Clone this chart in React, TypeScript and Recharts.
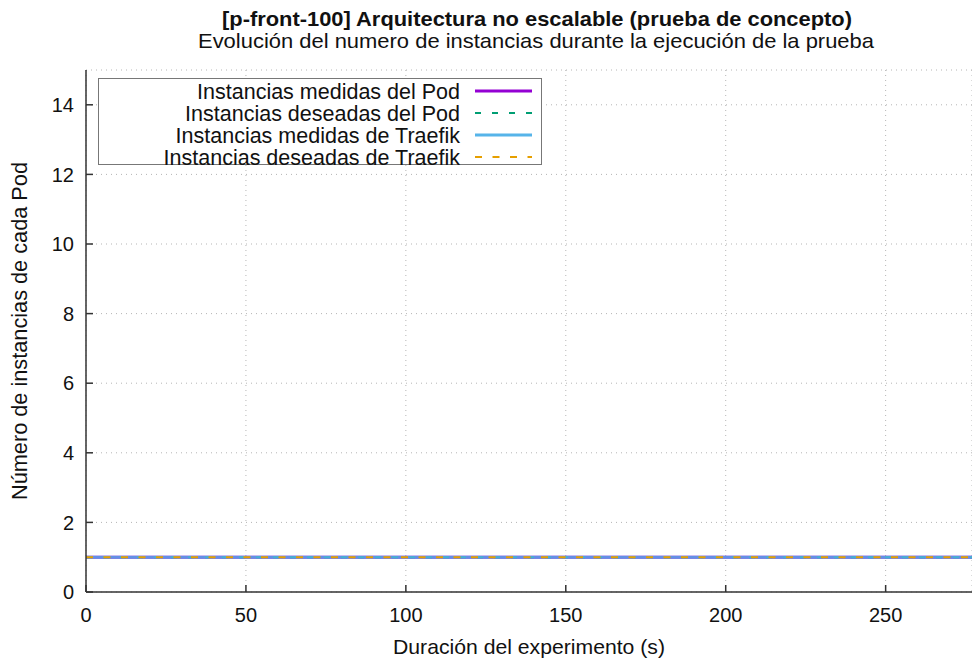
import { LineChart, Line, XAxis, YAxis, CartesianGrid } from 'recharts';

// duración del experimento (s), valor constante
const tiempos = [0, 20, 40, 60, 80, 100, 120, 140, 160, 180, 200, 220, 240, 260, 280];
const podMedidas = [1, 1, 1, 1, 1, 1, 1, 1, 1, 1, 1, 1, 1, 1, 1];
const podDeseadas = [1, 1, 1, 1, 1, 1, 1, 1, 1, 1, 1, 1, 1, 1, 1];
const traefikMedidas = [1, 1, 1, 1, 1, 1, 1, 1, 1, 1, 1, 1, 1, 1, 1];
const traefikDeseadas = [1, 1, 1, 1, 1, 1, 1, 1, 1, 1, 1, 1, 1, 1, 1];

const xTicks = [0, 50, 100, 150, 200, 250];
const yTicks = [0, 2, 4, 6, 8, 10, 12, 14];

const titulo = '[p-front-100] Arquitectura no escalable (prueba de concepto)';
const subtitulo = 'Evolución del numero de instancias durante la ejecución de la prueba';
const etiquetaX = 'Duración del experimento (s)';
const etiquetaY = 'Número de instancias de cada Pod';

const series = [
  { key: 'podMedidas', name: 'Instancias medidas del Pod', color: '#9400d3', width: 3, dash: undefined as string | undefined, opacity: 1 },
  { key: 'podDeseadas', name: 'Instancias deseadas del Pod', color: '#009e73', width: 2, dash: '6 11', opacity: 1 },
  { key: 'traefikMedidas', name: 'Instancias medidas de Traefik', color: '#56b4e9', width: 3, dash: undefined, opacity: 0.8 },
  { key: 'traefikDeseadas', name: 'Instancias deseadas de Traefik', color: '#e69f00', width: 2, dash: '7 10.5', opacity: 1 },
];

const data = tiempos.map((t, i) => ({
  t,
  podMedidas: podMedidas[i],
  podDeseadas: podDeseadas[i],
  traefikMedidas: traefikMedidas[i],
  traefikDeseadas: traefikDeseadas[i],
}));

const FONT = '"Liberation Sans", Arial, Helvetica, sans-serif';
const AXIS = '#333333';

function Leyenda() {
  return (
    <svg
      width={445}
      height={100}
      style={{ position: 'absolute', left: 98, top: 78, overflow: 'visible' }}
    >
      <rect x={0.5} y={0.5} width={443} height={86} fill="#ffffff" stroke="#777777" strokeWidth={1} />
      {series.map((s, i) => {
        const y = 13 + i * 22;
        return (
          <g key={s.key}>
            <text
              x={362}
              y={y}
              dy="0.36em"
              textAnchor="end"
              fontFamily={FONT}
              fontSize={21.5}
              fill="#111"
            >
              {s.name}
            </text>
            <line
              x1={377}
              x2={434}
              y1={y}
              y2={y}
              stroke={s.color}
              strokeWidth={s.width}
              strokeDasharray={s.dash}
            />
          </g>
        );
      })}
    </svg>
  );
}

export default function App() {
  return (
    <div style={{ position: 'absolute', left: 0, top: 0, width: 972, height: 664, background: '#fff', overflow: 'hidden' }}>
      <LineChart
        width={972}
        height={664}
        data={data}
        margin={{ top: 70, right: 0, bottom: 0, left: 0 }}
      >
        <CartesianGrid stroke="#b5b5b5" strokeDasharray="1 4" />
        <XAxis
          dataKey="t"
          type="number"
          domain={[0, 277]}
          allowDataOverflow
          ticks={xTicks}
          height={72}
          tickSize={-7}
          tickMargin={23}
          axisLine={{ stroke: AXIS, strokeWidth: 1.5 }}
          tickLine={{ stroke: AXIS, strokeWidth: 1.5 }}
          tick={{ fontSize: 20, fill: '#111', fontFamily: FONT }}
        />
        <XAxis
          xAxisId="top"
          orientation="top"
          dataKey="t"
          type="number"
          domain={[0, 277]}
          allowDataOverflow
          ticks={xTicks}
          height={0}
          tickSize={-7}
          tickFormatter={() => ''}
          axisLine={{ stroke: AXIS, strokeWidth: 1.5 }}
          tickLine={{ stroke: AXIS, strokeWidth: 1.5 }}
        />
        <YAxis
          type="number"
          domain={[0, 15]}
          ticks={yTicks}
          width={86}
          tickSize={-7}
          tickMargin={19}
          axisLine={{ stroke: AXIS, strokeWidth: 1.5 }}
          tickLine={{ stroke: AXIS, strokeWidth: 1.5 }}
          tick={{ fontSize: 20, fill: '#111', fontFamily: FONT }}
        />
        {series.map((s) => (
          <Line
            key={s.key}
            dataKey={s.key}
            name={s.name}
            type="linear"
            stroke={s.color}
            strokeWidth={s.width}
            strokeOpacity={s.opacity}
            strokeDasharray={s.dash}
            dot={false}
            activeDot={false}
            isAnimationActive={false}
          />
        ))}
      </LineChart>
      <svg width={972} height={664} style={{ position: 'absolute', left: 0, top: 0, pointerEvents: 'none' }}>
        <text x={537} y={26} textAnchor="middle" fontFamily={FONT} fontWeight="bold" fontSize={21} fill="#111" textLength={630} lengthAdjust="spacingAndGlyphs">
          {titulo}
        </text>
        <text x={536} y={48} textAnchor="middle" fontFamily={FONT} fontSize={21} fill="#111" textLength={676} lengthAdjust="spacingAndGlyphs">
          {subtitulo}
        </text>
        <text x={529} y={654} textAnchor="middle" fontFamily={FONT} fontSize={21} fill="#111" textLength={272} lengthAdjust="spacingAndGlyphs">
          {etiquetaX}
        </text>
        <text
          x={0}
          y={0}
          transform="translate(27 331) rotate(-90)"
          textAnchor="middle"
          fontFamily={FONT}
          fontSize={21.5}
          fill="#111"
          textLength={338}
          lengthAdjust="spacingAndGlyphs"
        >
          {etiquetaY}
        </text>
      </svg>
      <Leyenda />
    </div>
  );
}
